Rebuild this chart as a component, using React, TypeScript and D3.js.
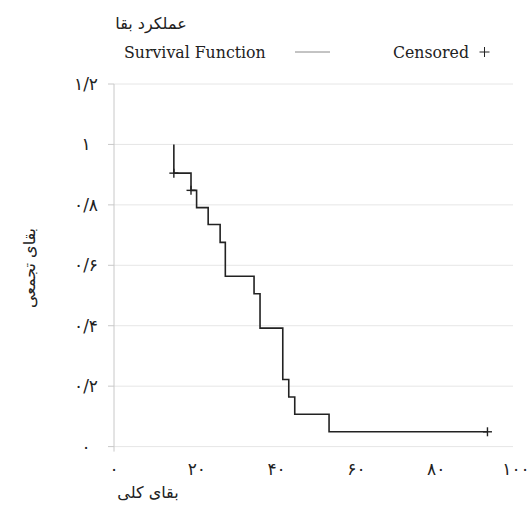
import * as d3 from "d3";

const times = [15.0, 19.3, 20.7, 23.6, 26.6, 27.9, 35.1, 36.6, 42.3, 43.8, 45.3, 53.9];
const survival = [0.905, 0.848, 0.791, 0.735, 0.676, 0.564, 0.506, 0.392, 0.222, 0.164, 0.107, 0.049];
const startTime = 15.0;
const endTime = 93.6;
const censoredTimes = [15.0, 19.3, 93.6];
const censoredValues = [0.905, 0.848, 0.049];

const xTicks = [0, 20, 40, 60, 80, 100];
const yTicks = [0, 0.2, 0.4, 0.6, 0.8, 1, 1.2];
const xTickLabels = ["۰", "۲۰", "۴۰", "۶۰", "۸۰", "۱۰۰"];
const yTickLabels = ["۰", "۰/۲", "۰/۴", "۰/۶", "۰/۸", "۱", "۱/۲"];

const title = "عملکرد بقا";
const xTitle = "بقای کلی";
const yTitle = "بقای تجمعی";
const legendLine = "Survival Function";
const legendCensored = "Censored";

const W = 530;
const H = 520;
const arabic = "DejaVu Sans";
const serif = "'DejaVu Serif Condensed', 'DejaVu Serif'";

const App = () => {
  const x = d3.scaleLinear().domain([0, 100]).range([114, 513]);
  const y = d3.scaleLinear().domain([0, 1.2]).range([446.6, 84]);

  const pts: [number, number][] = [[startTime, 1]];
  times.forEach((t, i) => pts.push([t, survival[i]]));
  pts.push([endTime, survival[survival.length - 1]]);

  const line = d3
    .line<[number, number]>()
    .x((d) => x(d[0]))
    .y((d) => y(d[1]))
    .curve(d3.curveStepAfter);

  return (
    <svg
      width={W}
      height={H}
      style={{ position: "absolute", left: 0, top: 0, background: "#fff" }}
    >
      {/* gridlines */}
      {yTicks.map((t) => (
        <line
          key={"g" + t}
          x1={x(0)}
          x2={x(100)}
          y1={y(t)}
          y2={y(t)}
          stroke="#e6e6e6"
          strokeWidth={1}
        />
      ))}
      {/* y axis + ticks */}
      <line x1={x(0)} x2={x(0)} y1={y(1.2)} y2={y(0) + 5} stroke="#c8c8c8" />
      {yTicks.map((t) => (
        <line
          key={"t" + t}
          x1={x(0) - 6}
          x2={x(0)}
          y1={y(t)}
          y2={y(t)}
          stroke="#c8c8c8"
        />
      ))}
      {yTicks.map((t, i) => (
        <text
          key={"yl" + t}
          x={86}
          y={y(t)}
          dy="0.35em"
          textAnchor="middle"
          style={{ fontFamily: arabic, fontSize: 17 }}
          fill="#222"
        >
          {yTickLabels[i]}
        </text>
      ))}
      {xTicks.map((t, i) => (
        <text
          key={"xl" + t}
          x={x(t) + (i === 0 ? 0 : 3)}
          y={469}
          dy="0.35em"
          textAnchor="middle"
          style={{ fontFamily: arabic, fontSize: 17 }}
          fill="#222"
        >
          {xTickLabels[i]}
        </text>
      ))}

      {/* survival curve */}
      <path d={line(pts) ?? ""} fill="none" stroke="#222" strokeWidth={1.6} />
      {censoredTimes.map((t, i) => (
        <g key={"c" + i} transform={`translate(${x(t)},${y(censoredValues[i])})`}>
          <line x1={-4.5} x2={4.5} y1={0} y2={0} stroke="#222" strokeWidth={1.4} />
          <line x1={0} x2={0} y1={-4.5} y2={4.5} stroke="#222" strokeWidth={1.4} />
        </g>
      ))}

      {/* titles */}
      <text x={151} y={29} textAnchor="middle" style={{ fontFamily: arabic, fontSize: 16 }} fill="#222">
        {title}
      </text>
      <text x={148} y={498} textAnchor="middle" style={{ fontFamily: arabic, fontSize: 16 }} fill="#222">
        {xTitle}
      </text>
      <text
        transform="translate(35,268) rotate(-90)"
        textAnchor="middle"
        style={{ fontFamily: arabic, fontSize: 16 }}
        fill="#222"
      >
        {yTitle}
      </text>

      {/* legend */}
      <text x={124} y={58} style={{ fontFamily: serif, fontSize: 17.5 }} fill="#222">
        {legendLine}
      </text>
      <line x1={295} x2={330} y1={52} y2={52} stroke="#888" strokeWidth={1} />
      <text x={393} y={58} style={{ fontFamily: serif, fontSize: 17.5 }} fill="#222">
        {legendCensored}
      </text>
      <g transform="translate(484.5,52)">
        <line x1={-5} x2={5} y1={0} y2={0} stroke="#222" strokeWidth={1} />
        <line x1={0} x2={0} y1={-5} y2={5} stroke="#222" strokeWidth={1} />
      </g>
    </svg>
  );
};

export default App;
